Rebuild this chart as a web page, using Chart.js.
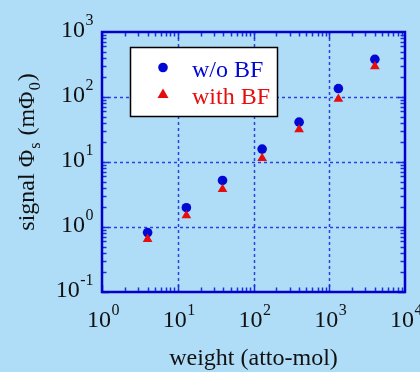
<!DOCTYPE html>
<html>
<head>
<meta charset="utf-8">
<script src="https://cdn.jsdelivr.net/npm/chart.js@4/dist/chart.umd.min.js"></script>
<style>
  html, body { margin: 0; padding: 0; background: #afdcf7; }
  canvas { display: block; }
</style>
</head>
<body>
<canvas id="chart" width="420" height="372"></canvas>
<script>
// values (log-log)
const weights = [4, 13, 39, 130, 400, 1320, 4000];
const signalNoBF = [0.82, 1.98, 5.2, 15.8, 41, 135, 380];
const signalBF = [0.65, 1.50, 3.8, 11.4, 31.6, 93, 295];

const xDecades = [0, 1, 2, 3, 4];
const yDecades = [-1, 0, 1, 2, 3];
const seriesLabels = ["w/o BF", "with BF"];

const BLUE = "#0008d4";
const RED = "#e60d0d";
const AXIS = "#0000cc";
const SERIF = "'Liberation Serif', 'DejaVu Serif', serif";

function toPoints(xs, ys) {
    return xs.map((x, i) => ({ x: x, y: ys[i] }));
}

const framePlugin = {
    id: "frame",
    beforeDraw(chart) {
        const ctx = chart.ctx;
        ctx.save();
        ctx.fillStyle = "#afdcf7";
        ctx.fillRect(0, 0, chart.width, chart.height);
        ctx.restore();
    },
    beforeDatasetsDraw(chart) {
        const ctx = chart.ctx;
        const area = chart.chartArea;
        const xs = chart.scales.x;
        const ys = chart.scales.y;
        ctx.save();

        // dotted grid at inner decades
        ctx.strokeStyle = "#2a44e0";
        ctx.lineWidth = 1.5;
        ctx.setLineDash([3, 3]);
        xDecades.slice(1, -1).forEach(d => {
            const px = Math.round(xs.getPixelForValue(Math.pow(10, d))) + 0.5;
            ctx.beginPath();
            ctx.moveTo(px, area.top);
            ctx.lineTo(px, area.bottom);
            ctx.stroke();
        });
        yDecades.slice(1, -1).forEach(d => {
            const py = Math.round(ys.getPixelForValue(Math.pow(10, d))) + 0.5;
            ctx.beginPath();
            ctx.moveTo(area.left, py);
            ctx.lineTo(area.right, py);
            ctx.stroke();
        });
        ctx.setLineDash([]);

        // minor and major ticks on all four sides
        ctx.strokeStyle = "#1a30dd";
        ctx.lineWidth = 1.5;
        for (let d = xDecades[0]; d < xDecades[xDecades.length - 1]; d++) {
            for (let m = 1; m <= 9; m++) {
                const v = m * Math.pow(10, d);
                const px = Math.round(xs.getPixelForValue(v)) + 0.5;
                const len = m === 1 ? 7 : 4.5;
                ctx.beginPath();
                ctx.moveTo(px, area.bottom);
                ctx.lineTo(px, area.bottom - len);
                ctx.moveTo(px, area.top);
                ctx.lineTo(px, area.top + len);
                ctx.stroke();
            }
        }
        for (let d = yDecades[0]; d < yDecades[yDecades.length - 1]; d++) {
            for (let m = 1; m <= 9; m++) {
                const v = m * Math.pow(10, d);
                const py = Math.round(ys.getPixelForValue(v)) + 0.5;
                const len = m === 1 ? 7 : 4.5;
                ctx.beginPath();
                ctx.moveTo(area.left, py);
                ctx.lineTo(area.left + len, py);
                ctx.moveTo(area.right, py);
                ctx.lineTo(area.right - len, py);
                ctx.stroke();
            }
        }

        // frame
        ctx.strokeStyle = AXIS;
        ctx.lineWidth = 2.5;
        ctx.strokeRect(area.left, area.top, area.right - area.left, area.bottom - area.top);

        // legend box
        const lx = 130, ly = 47, lw = 147, lh = 69;
        ctx.fillStyle = "#ffffff";
        ctx.fillRect(lx, ly, lw, lh);
        ctx.strokeStyle = "#000000";
        ctx.lineWidth = 1.5;
        ctx.strokeRect(lx + 0.5, ly + 0.5, lw, lh);

        ctx.fillStyle = BLUE;
        ctx.beginPath();
        ctx.arc(163, 67.5, 4.8, 0, Math.PI * 2);
        ctx.fill();
        ctx.fillStyle = RED;
        ctx.beginPath();
        ctx.moveTo(163, 88.5);
        ctx.lineTo(168.5, 98);
        ctx.lineTo(157.5, 98);
        ctx.closePath();
        ctx.fill();

        ctx.font = "24px " + SERIF;
        ctx.textBaseline = "alphabetic";
        ctx.textAlign = "left";
        ctx.fillStyle = BLUE;
        ctx.fillText(seriesLabels[0], 192, 77);
        ctx.fillStyle = RED;
        ctx.fillText(seriesLabels[1], 192, 104);

        ctx.restore();
    },
    afterDraw(chart) {
        const ctx = chart.ctx;
        const area = chart.chartArea;
        const xs = chart.scales.x;
        const ys = chart.scales.y;
        ctx.save();
        ctx.fillStyle = "#111111";
        ctx.textBaseline = "alphabetic";
        ctx.textAlign = "left";

        // x tick labels 10^n
        xDecades.forEach(d => {
            const px = xs.getPixelForValue(Math.pow(10, d));
            ctx.font = "24px " + SERIF;
            const wBase = ctx.measureText("10").width;
            ctx.font = "16px " + SERIF;
            const wSup = ctx.measureText(String(d)).width;
            const x0 = px - (wBase + wSup) / 2 + 1;
            ctx.font = "24px " + SERIF;
            ctx.fillText("10", x0, 327);
            ctx.font = "16px " + SERIF;
            ctx.fillText(String(d), x0 + wBase + 0.5, 315);
        });

        // y tick labels 10^n, right aligned
        yDecades.forEach(d => {
            const py = ys.getPixelForValue(Math.pow(10, d));
            ctx.font = "24px " + SERIF;
            const wBase = ctx.measureText("10").width;
            ctx.font = "16px " + SERIF;
            const wSup = ctx.measureText(String(d)).width;
            const x0 = 93 - wSup - wBase;
            ctx.font = "24px " + SERIF;
            ctx.fillText("10", x0, py + 4.5);
            ctx.font = "16px " + SERIF;
            ctx.fillText(String(d), x0 + wBase + 0.5, py - 7.5);
        });

        // x title
        ctx.font = "24px " + SERIF;
        ctx.textAlign = "center";
        ctx.fillText("weight (atto-mol)", (area.left + area.right) / 2, 365);

        // y title with subscripts, rotated
        const parts = [
            { t: "signal \u03A6", sub: false },
            { t: "s", sub: true },
            { t: " (m\u03A6", sub: false },
            { t: "0", sub: true },
            { t: ")", sub: false }
        ];
        let total = 0;
        parts.forEach(p => {
            ctx.font = (p.sub ? "16px " : "24px ") + SERIF;
            p.w = ctx.measureText(p.t).width + (p.sub ? 2 : 0);
            total += p.w;
        });
        ctx.translate(34, 152);
        ctx.rotate(-Math.PI / 2);
        ctx.textAlign = "left";
        let cx = -total / 2;
        parts.forEach(p => {
            ctx.font = (p.sub ? "16px " : "24px ") + SERIF;
            ctx.fillText(p.t, cx + (p.sub ? 1 : 0), p.sub ? 6 : 0);
            cx += p.w;
        });

        ctx.restore();
    }
};

new Chart(document.getElementById("chart"), {
    type: "scatter",
    data: {
        datasets: [
            {
                label: seriesLabels[0],
                data: toPoints(weights, signalNoBF),
                pointStyle: "circle",
                pointRadius: 4.8,
                backgroundColor: BLUE,
                borderColor: BLUE,
                borderWidth: 0,
                order: 1
            },
            {
                label: seriesLabels[1],
                data: toPoints(weights, signalBF),
                pointStyle: "triangle",
                pointRadius: 5.6,
                backgroundColor: RED,
                borderColor: RED,
                borderWidth: 0,
                order: 0
            }
        ]
    },
    options: {
        responsive: false,
        animation: false,
        layout: { padding: { left: 102, right: 15, top: 32, bottom: 80 } },
        plugins: {
            legend: { display: false },
            tooltip: { enabled: false }
        },
        scales: {
            x: { type: "logarithmic", min: 1, max: 10000, display: false },
            y: { type: "logarithmic", min: 0.1, max: 1000, display: false }
        }
    },
    plugins: [framePlugin]
});
</script>
</body>
</html>
